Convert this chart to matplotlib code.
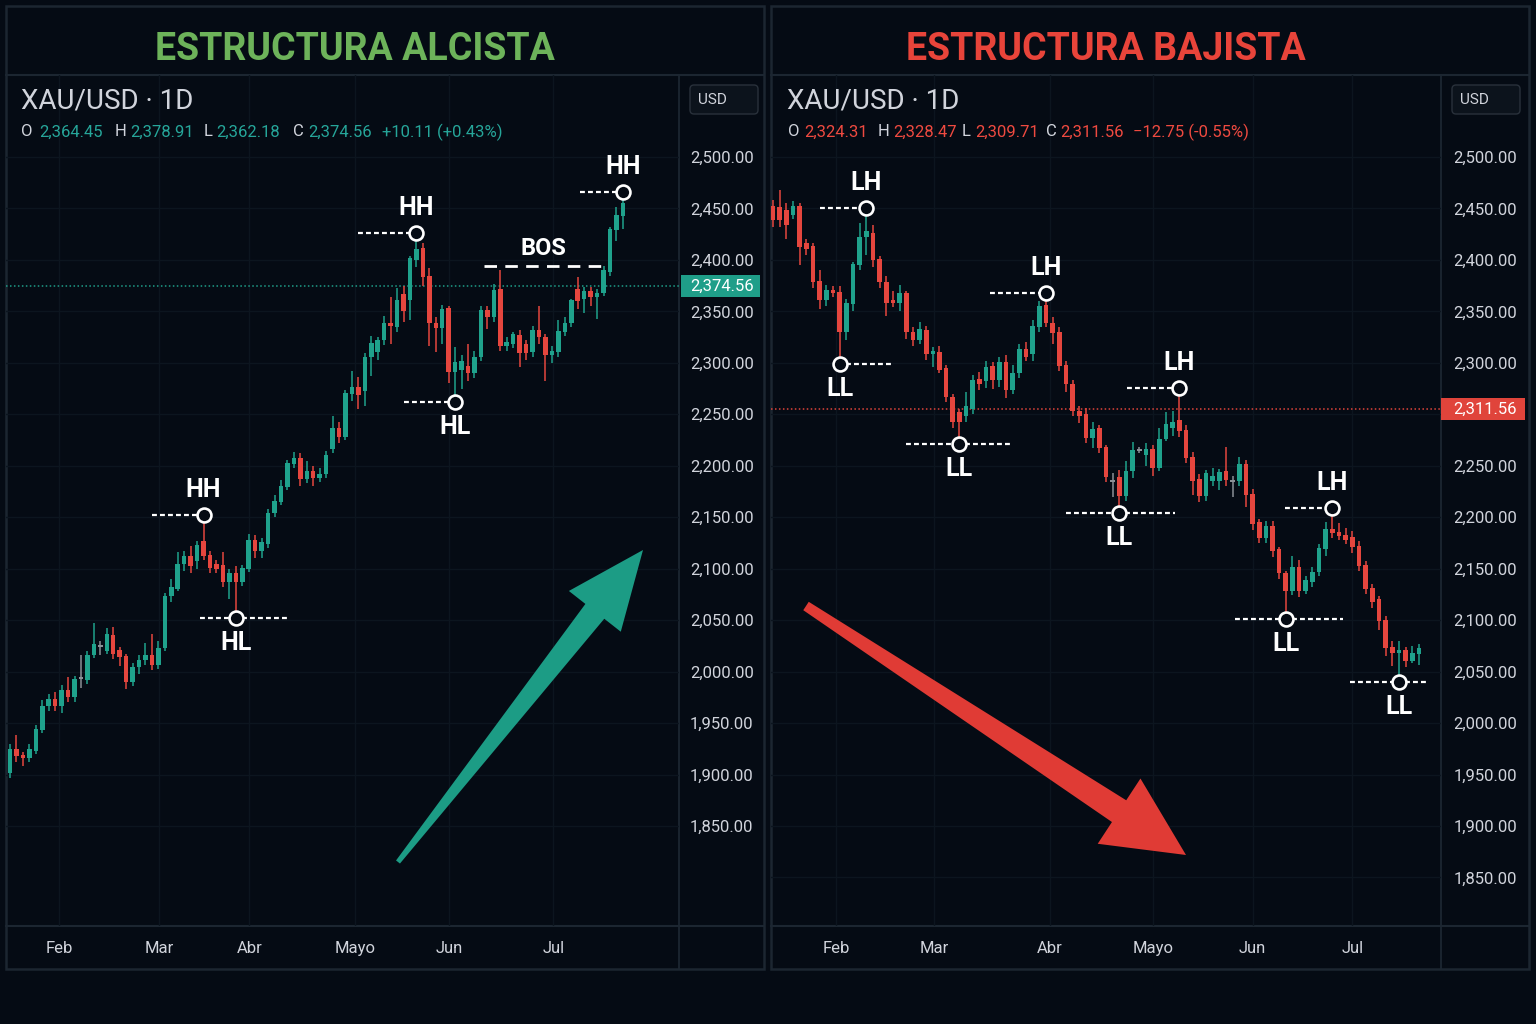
import matplotlib
matplotlib.use('Agg')
import matplotlib.pyplot as plt
from matplotlib.patches import Rectangle, FancyBboxPatch, Polygon
from matplotlib.transforms import blended_transform_factory
import numpy as np

plt.rcParams['font.family'] = ['Roboto', 'DejaVu Sans']

# ---------------- data ----------------
# bullish panel (daily candles)
bull_open = [1901, 1925, 1919, 1916, 1923, 1943, 1967, 1973, 1967, 1982,
             1975, 1993, 1992, 2016, 2024, 2020, 2036, 2021, 2015, 1990,
             2004, 2011, 2016, 2006, 2023, 2073, 2080, 2105, 2112, 2107,
             2127, 2113, 2105, 2104, 2087, 2096, 2087, 2100, 2128, 2117,
             2124, 2154, 2165, 2179, 2202, 2208, 2187, 2195, 2188, 2192,
             2216, 2237, 2228, 2270, 2277, 2273, 2306, 2311, 2322, 2339,
             2335, 2367, 2361, 2400, 2412, 2384, 2339, 2334, 2353, 2291,
             2293, 2297, 2290, 2306, 2351, 2345, 2372, 2316, 2318, 2327,
             2318, 2311, 2332, 2325, 2308, 2311, 2330, 2339, 2372, 2362,
             2370, 2364, 2368, 2388, 2429, 2443]
bull_close = [1925, 1918, 1916, 1925, 1944, 1967, 1973, 1967, 1982, 1975,
              1993, 1994, 2016, 2027, 2026, 2037, 2017, 2014, 1990, 2004,
              2011, 2016, 2006, 2023, 2073, 2082, 2105, 2112, 2103, 2123,
              2112, 2101, 2100, 2087, 2096, 2087, 2101, 2128, 2117, 2126,
              2154, 2166, 2180, 2203, 2208, 2187, 2195, 2188, 2192, 2210,
              2237, 2228, 2271, 2277, 2269, 2306, 2319, 2322, 2339, 2336,
              2361, 2350, 2402, 2411, 2383, 2339, 2334, 2352, 2291, 2301,
              2302, 2290, 2306, 2351, 2345, 2371, 2316, 2320, 2328, 2310,
              2310, 2332, 2325, 2308, 2312, 2331, 2339, 2361, 2360, 2370,
              2364, 2368, 2390, 2430, 2444, 2455]
bull_high = [1930, 1938, 1922, 1930, 1948, 1972, 1978, 1980, 1987, 1995,
             1996, 2016, 2020, 2047, 2030, 2042, 2043, 2024, 2017, 2008,
             2016, 2028, 2037, 2030, 2076, 2090, 2116, 2117, 2122, 2127,
             2152, 2117, 2108, 2116, 2100, 2103, 2104, 2134, 2133, 2130,
             2158, 2172, 2186, 2206, 2213, 2212, 2205, 2200, 2198, 2214,
             2248, 2243, 2274, 2292, 2286, 2310, 2326, 2325, 2346, 2364,
             2373, 2375, 2404, 2426, 2416, 2392, 2345, 2356, 2355, 2315,
             2308, 2318, 2312, 2355, 2355, 2377, 2390, 2325, 2330, 2332,
             2322, 2336, 2355, 2328, 2316, 2342, 2345, 2362, 2383, 2374,
             2374, 2372, 2394, 2432, 2451, 2466]
bull_low = [1897, 1912, 1908, 1912, 1920, 1940, 1962, 1962, 1960, 1970,
            1970, 1984, 1988, 2013, 2016, 2017, 2012, 2005, 1983, 1986,
            1998, 2006, 2002, 2003, 2020, 2068, 2078, 2098, 2096, 2100,
            2108, 2096, 2096, 2082, 2071, 2052, 2083, 2097, 2110, 2110,
            2120, 2150, 2162, 2176, 2198, 2180, 2183, 2180, 2184, 2188,
            2212, 2222, 2225, 2263, 2255, 2258, 2287, 2303, 2317, 2318,
            2330, 2340, 2342, 2393, 2375, 2316, 2311, 2318, 2280, 2262,
            2275, 2282, 2285, 2302, 2333, 2340, 2312, 2312, 2314, 2296,
            2303, 2306, 2318, 2282, 2300, 2306, 2326, 2335, 2352, 2348,
            2355, 2343, 2365, 2384, 2418, 2430]

# bearish panel
bear_open = [2452, 2451, 2449, 2444, 2452, 2416, 2414, 2380, 2361, 2371,
             2369, 2330, 2357, 2395, 2422, 2426, 2401, 2379, 2361, 2358,
             2368, 2330, 2322, 2332, 2309, 2311, 2295, 2267, 2252, 2248,
             2255, 2284, 2282, 2297, 2283, 2301, 2274, 2290, 2313, 2309,
             2335, 2356, 2339, 2330, 2298, 2279, 2253, 2250, 2227, 2237,
             2218, 2186, 2189, 2171, 2195, 2214, 2210, 2216, 2198, 2226,
             2237, 2244, 2235, 2209, 2187, 2171, 2185, 2185, 2195, 2186,
             2185, 2202, 2173, 2145, 2130, 2141, 2119, 2096, 2078, 2102,
             2078, 2087, 2097, 2119, 2139, 2136, 2133, 2131, 2122, 2104,
             2081, 2071, 2050, 2024, 2018, 2021, 2010, 2017]
bear_close = [2439, 2439, 2434, 2452, 2413, 2411, 2379, 2361, 2371, 2368,
              2330, 2358, 2396, 2422, 2428, 2400, 2379, 2358, 2358, 2368,
              2330, 2322, 2333, 2309, 2312, 2293, 2267, 2243, 2243, 2258,
              2283, 2279, 2296, 2283, 2301, 2274, 2290, 2313, 2306, 2336,
              2355, 2339, 2329, 2297, 2279, 2253, 2248, 2227, 2236, 2217,
              2189, 2184, 2171, 2195, 2215, 2216, 2216, 2198, 2226, 2241,
              2243, 2234, 2208, 2185, 2171, 2193, 2190, 2194, 2186, 2184,
              2202, 2172, 2143, 2130, 2141, 2117, 2096, 2078, 2102, 2078,
              2089, 2097, 2120, 2139, 2135, 2132, 2128, 2121, 2103, 2080,
              2068, 2049, 2023, 2018, 2021, 2010, 2018, 2023]
bear_high = [2458, 2468, 2455, 2457, 2455, 2420, 2416, 2390, 2376, 2375,
             2375, 2362, 2398, 2436, 2450, 2434, 2404, 2384, 2370, 2376,
             2370, 2335, 2340, 2336, 2315, 2316, 2298, 2270, 2255, 2272,
             2288, 2291, 2302, 2301, 2306, 2308, 2298, 2318, 2320, 2342,
             2360, 2368, 2345, 2335, 2302, 2283, 2258, 2256, 2243, 2240,
             2220, 2193, 2196, 2205, 2223, 2218, 2222, 2220, 2237, 2252,
             2253, 2276, 2240, 2213, 2192, 2196, 2198, 2197, 2218, 2190,
             2209, 2206, 2177, 2148, 2146, 2146, 2121, 2098, 2112, 2108,
             2093, 2102, 2124, 2145, 2159, 2144, 2140, 2137, 2127, 2107,
             2085, 2073, 2054, 2030, 2030, 2024, 2025, 2027]
bear_low = [2432, 2432, 2420, 2440, 2395, 2405, 2373, 2352, 2355, 2364,
            2299, 2322, 2350, 2390, 2405, 2393, 2373, 2346, 2354, 2350,
            2323, 2316, 2318, 2303, 2296, 2290, 2262, 2237, 2221, 2243,
            2250, 2274, 2276, 2275, 2277, 2266, 2270, 2285, 2302, 2302,
            2330, 2335, 2318, 2292, 2272, 2248, 2242, 2222, 2217, 2212,
            2184, 2170, 2154, 2166, 2188, 2212, 2200, 2190, 2195, 2224,
            2229, 2228, 2203, 2172, 2165, 2166, 2180, 2176, 2180, 2170,
            2180, 2160, 2138, 2125, 2125, 2111, 2090, 2051, 2074, 2072,
            2075, 2082, 2093, 2112, 2130, 2128, 2124, 2115, 2098, 2075,
            2062, 2040, 2015, 2005, 1990, 2004, 2008, 2006]

months = ['Feb', 'Mar', 'Abr', 'Mayo', 'Jun', 'Jul']
bull_month_pos = [7.6, 23.1, 37.1, 53.5, 68.1, 84.2]
bear_month_pos = [9.5, 24.2, 41.6, 57.1, 72.0, 87.0]

bull_ticks = [2500, 2450, 2400, 2350, 2300, 2250, 2200, 2150, 2100, 2050,
              2000, 1950, 1900, 1850]
bull_tick_labels = ['2,500.00', '2,450.00', '2,400.00', '2,350.00', '2,300.00',
                    '2,250.00', '2,200.00', '2,150.00', '2,100.00', '2,050.00',
                    '2,000.00', '1,950.00', '1,900.00', '1,850.00']
bear_ticks = [2500, 2450, 2400, 2350, 2300, 2250, 2200, 2150, 2100, 2050,
              2000, 1950, 1900, 1850, 1800]
bear_tick_labels = ['2,500.00', '2,450.00', '2,400.00', '2,350.00', '2,300.00',
                    '', '2,250.00', '2,200.00', '2,150.00', '2,100.00',
                    '2,050.00', '2,000.00', '1,950.00', '1,900.00', '1,850.00']

# swing points: candle index, price, label
bull_swings = [(30, 2152, 'HH'), (35, 2052, 'HL'), (63, 2426, 'HH'),
               (69, 2262, 'HL'), (95, 2466, 'HH')]
bear_swings = [(14, 2450, 'LH'), (10, 2299, 'LL'), (41, 2368, 'LH'),
               (28, 2221, 'LL'), (61, 2276, 'LH'), (52, 2154, 'LL'),
               (84, 2159, 'LH'), (77, 2051, 'LL'), (94, 1990, 'LL')]
# dashed guide lengths (candles to the left / right of the swing)
bull_dash = [(8, 0), (5.5, 8), (9, 0), (8, 0), (6.6, 0)]
bear_dash = [(7, 0), (0, 8), (8.4, 0), (8, 8), (7.8, 0), (8, 8.3),
             (7.1, 0), (7.7, 8.6), (7.4, 4.4)]

bos_level = 2394
bos_span = (73.5, 91.8)

bull_last = 2374.56
bear_last_level = 2255
bull_hdr = ['2,364.45', '2,378.91', '2,362.18', '2,374.56', '+10.11 (+0.43%)']
bear_hdr = ['2,324.31', '2,328.47', '2,309.71', '2,311.56', '\u221212.75 (-0.55%)']

# ---------------- style ----------------
BG = '#050b14'
LINE = '#1c2631'
GRID = '#0c151f'
TXT = '#d1d4dc'
UP = '#1fa28c'
DOWN = '#e5463e'
DOJI = '#8b9096'

fig = plt.figure(figsize=(15.36, 10.24), dpi=100, facecolor=BG)

bg = fig.add_axes([0, 0, 1, 1], zorder=0)
bg.set_xlim(0, 1536)
bg.set_ylim(1024, 0)
bg.axis('off')
bg.set_facecolor(BG)

top = fig.add_axes([0, 0, 1, 1], zorder=10)
top.set_xlim(0, 1536)
top.set_ylim(1024, 0)
top.axis('off')
top.patch.set_alpha(0)


def frame(x0, x1, xa):
    bg.add_patch(Rectangle((x0, 6), x1 - x0, 963, fill=False, edgecolor=LINE, lw=1.8))
    bg.plot([x0, x1], [75, 75], color=LINE, lw=1.5)
    bg.plot([x0, x1], [926, 926], color=LINE, lw=1.5)
    bg.plot([xa, xa], [75, 969], color=LINE, lw=1.3)
    bg.add_patch(FancyBboxPatch((xa + 11, 85), 68, 29,
                                boxstyle='round,pad=0,rounding_size=4',
                                facecolor='#0c131c', edgecolor='#29313b', lw=1))
    bg.text(xa + 19, 100, 'USD', color=TXT, fontsize=11, va='center', ha='left')


frame(6, 764, 679)
frame(771, 1529, 1441)

# title strip
top.text(355, 49, 'ESTRUCTURA ALCISTA', color='#6db35a', fontsize=27,
         fontweight='bold', ha='center', va='center')
top.text(1106, 49, 'ESTRUCTURA BAJISTA', color='#e8443a', fontsize=27,
         fontweight='bold', ha='center', va='center')


def header(x0, vals, col, xs):
    top.text(x0, 101, 'XAU/USD \u00b7 1D', color=TXT, fontsize=20, va='center', ha='left')
    keys = ['O', 'H', 'L', 'C']
    for k in range(4):
        top.text(xs[2 * k], 132, keys[k], color=TXT, fontsize=12, va='center')
        top.text(xs[2 * k + 1], 132, vals[k], color=col, fontsize=12, va='center')
    top.text(xs[8], 132, vals[4], color=col, fontsize=12, va='center')


header(21, bull_hdr, '#26a69a', [21, 39, 115, 130, 204, 216, 293, 308, 382])
header(787, bear_hdr, '#ef4a40', [788, 804, 878, 893, 962, 975, 1046, 1060, 1133])


def make_axes(x0, x1):
    ax = fig.add_axes([x0 / 1536, (1024 - 926) / 1024, (x1 - x0) / 1536, 851 / 1024], zorder=2)
    ax.patch.set_alpha(0)
    for s in ax.spines.values():
        s.set_visible(False)
    ax.set_ylim(1752.8, 2579.7)
    ax.yaxis.tick_right()
    ax.tick_params(axis='y', length=0, pad=8, labelsize=12, labelcolor=TXT)
    ax.tick_params(axis='x', length=0, pad=11, labelsize=12, labelcolor=TXT)
    ax.grid(True, color=GRID, lw=1)
    ax.set_axisbelow(True)
    return ax


def candles(ax, o, h, l, c):
    o, h, l, c = map(np.array, (o, h, l, c))
    x = np.arange(len(o))
    cols = np.where(np.abs(c - o) <= 2, DOJI, np.where(c >= o, UP, DOWN))
    ax.vlines(x, l, h, colors=cols, lw=1.1, zorder=3)
    body = np.maximum(np.abs(c - o), 1.5)
    ax.bar(x, body, bottom=np.minimum(o, c), width=0.7, color=cols, zorder=4)


def swings(ax, pts, dashes):
    for (i, p, lab), (dl, dr) in zip(pts, dashes):
        if dl:
            ax.plot([i - dl, i - 0.9], [p, p], color='white', lw=1.6,
                    dashes=(2.2, 1.4), zorder=5)
        if dr:
            ax.plot([i + 0.9, i + dr], [p, p], color='white', lw=1.6,
                    dashes=(2.2, 1.4), zorder=5)
        ax.plot(i, p, 'o', ms=10, mfc=BG, mec='white', mew=1.9, zorder=6)
        up = lab in ('HH', 'LH')
        ax.annotate(lab, (i, p), xytext=(0, 18 if up else -18), textcoords='offset points',
                    ha='center', va='center', color='white', fontsize=18,
                    fontweight='bold', zorder=7)


def price_tag(ax, level, text, col, x0, w, xt):
    ax.axhline(level, color=col, lw=1.1, ls=(0, (1, 1.6)), zorder=2)
    tr = blended_transform_factory(ax.transAxes, ax.transData)
    ax.add_patch(Rectangle((x0, level - 10.5), w, 21, transform=tr, facecolor=col,
                           edgecolor='none', clip_on=False, zorder=8))
    ax.text(xt, level, text, transform=tr, ha='left', va='center', color='white',
            fontsize=12, clip_on=False, zorder=9)


# bullish panel
axl = make_axes(6, 679)
axl.set_xlim(-0.62, 103.7)
axl.set_yticks(bull_ticks, bull_tick_labels)
axl.set_xticks(bull_month_pos, months)
candles(axl, bull_open, bull_high, bull_low, bull_close)
swings(axl, bull_swings, bull_dash)
axl.plot(bos_span, [bos_level, bos_level], color='white', lw=2, dashes=(4.5, 3), zorder=5)
axl.annotate('BOS', (np.mean(bos_span), bos_level), xytext=(0, 13), textcoords='offset points',
             ha='center', va='center', color='white', fontsize=17, fontweight='bold')
price_tag(axl, bull_last, bull_hdr[3], '#1f9e89', 1.003, 0.117, 1.016)

# bearish panel
axr = make_axes(771, 1441)
axr.set_xlim(-0.3, 100.3)
axr.set_yticks(bear_ticks, bear_tick_labels)
axr.tick_params(axis='y', pad=9)
axr.set_xticks(bear_month_pos, months)
candles(axr, bear_open, bear_high, bear_low, bear_close)
swings(axr, bear_swings, bear_dash)
price_tag(axr, bear_last_level, bear_hdr[3], '#e0443b', 1.0, 0.125, 1.019)


# trend arrows (tapered)
def arrow(tail, tip, w_tail, w_base, w_head, head_len, col):
    tail = np.array(tail, float)
    tip = np.array(tip, float)
    u = (tip - tail) / np.linalg.norm(tip - tail)
    n = np.array([-u[1], u[0]])
    b = tip - head_len * u
    pts = [tail - w_tail * n, b - w_base * n, b - w_head * n, tip,
           b + w_head * n, b + w_base * n, tail + w_tail * n]
    top.add_patch(Polygon(pts, closed=True, facecolor=col, edgecolor='none'))


arrow((398, 862), (643, 550), 2.5, 12, 33, 78, '#1c9c85')
arrow((806, 606), (1186, 855), 5, 13, 39, 80, '#e03b35')

fig.savefig('out.png', dpi=100, facecolor=BG)
